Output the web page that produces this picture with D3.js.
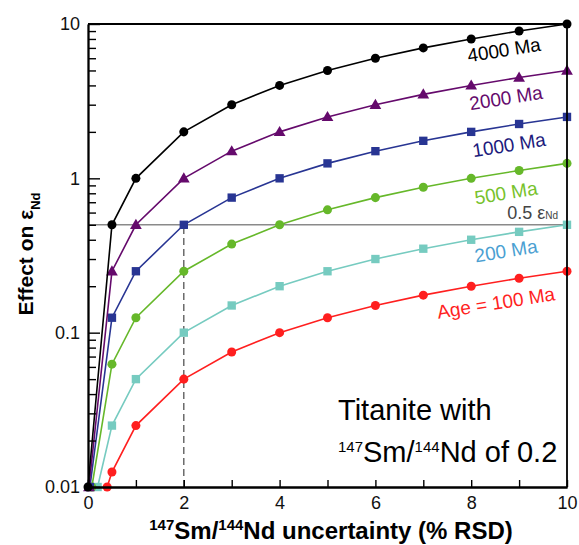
<!DOCTYPE html>
<html>
<head>
<meta charset="utf-8">
<script src="https://cdn.jsdelivr.net/npm/d3@7"></script>
<style>
  body { margin: 0; background: #fff; }
  text { font-family: "Liberation Sans", Arial, sans-serif; }
</style>
</head>
<body>
<div id="chart"></div>
<script>
// values
var ages = ["4000 Ma", "2000 Ma", "1000 Ma", "500 Ma", "200 Ma", "Age = 100 Ma"];
var x4000 = [0, 0.5, 1, 2, 3, 4, 5, 6, 7, 8, 9, 10];
var y4000 = [0.01, 0.5, 1, 2, 3, 4, 5, 6, 7, 8, 9, 10];
var x2000 = [0.02, 0.5, 1, 2, 3, 4, 5, 6, 7, 8, 9, 10];
var y2000 = [0.01, 0.25, 0.5, 1, 1.5, 2, 2.5, 3, 3.5, 4, 4.5, 5];
var x1000 = [0.04, 0.5, 1, 2, 3, 4, 5, 6, 7, 8, 9, 10];
var y1000 = [0.01, 0.125, 0.25, 0.5, 0.75, 1, 1.25, 1.5, 1.75, 2, 2.25, 2.5];
var x500 = [0.08, 0.5, 1, 2, 3, 4, 5, 6, 7, 8, 9, 10];
var y500 = [0.01, 0.0625, 0.125, 0.25, 0.375, 0.5, 0.625, 0.75, 0.875, 1, 1.125, 1.25];
var x200 = [0.2, 0.5, 1, 2, 3, 4, 5, 6, 7, 8, 9, 10];
var y200 = [0.01, 0.025, 0.05, 0.1, 0.15, 0.2, 0.25, 0.3, 0.35, 0.4, 0.45, 0.5];
var x100 = [0.4, 0.5, 1, 2, 3, 4, 5, 6, 7, 8, 9, 10];
var y100 = [0.01, 0.0125, 0.025, 0.05, 0.075, 0.1, 0.125, 0.15, 0.175, 0.2, 0.225, 0.25];
var yMajor = [0.01, 0.1, 1, 10];
var yMinor = [0.02, 0.03, 0.04, 0.05, 0.06, 0.07, 0.08, 0.09,
              0.2, 0.3, 0.4, 0.5, 0.6, 0.7, 0.8, 0.9,
              2, 3, 4, 5, 6, 7, 8, 9];
var xTicks = [0, 1, 2, 3, 4, 5, 6, 7, 8, 9, 10];
var xLabels = [0, 2, 4, 6, 8, 10];
var threshold = 0.5;
var markedUnc = 2;

var series = [
  {name: ages[5], xs: x100, ys: y100, color: "#ff1f1f", text: "#ff1f1f", shape: "circle", lx: 496, ly: 303},
  {name: ages[4], xs: x200, ys: y200, color: "#76cbc0", text: "#4b9fd2", shape: "square", lx: 506, ly: 251},
  {name: ages[3], xs: x500, ys: y500, color: "#66b82a", text: "#77c22c", shape: "circle", lx: 506, ly: 193},
  {name: ages[2], xs: x1000, ys: y1000, color: "#283593", text: "#1c1a7c", shape: "square", lx: 509, ly: 145},
  {name: ages[1], xs: x2000, ys: y2000, color: "#650a6c", text: "#650a6c", shape: "triangle", lx: 506, ly: 98},
  {name: ages[0], xs: x4000, ys: y4000, color: "#000000", text: "#000000", shape: "circle", lx: 504, ly: 50}
];

var W = 579, H = 545;
var margin = {top: 24, right: 12, bottom: 58, left: 88};
var width = W - margin.left - margin.right,
    height = H - margin.top - margin.bottom;

var svg = d3.select("#chart").append("svg")
    .attr("width", W).attr("height", H);
var g = svg.append("g")
    .attr("transform", "translate(" + margin.left + "," + margin.top + ")");

var x = d3.scaleLinear().domain([0, 10]).range([0, width]);
var y = d3.scaleLog().domain([0.01, 10]).range([height, 0]);

// threshold line and dashed drop line
g.append("line")
    .attr("x1", 0).attr("x2", width)
    .attr("y1", y(threshold)).attr("y2", y(threshold))
    .attr("stroke", "#8a8a8a").attr("stroke-width", 1.6);
g.append("line")
    .attr("x1", x(markedUnc)).attr("x2", x(markedUnc))
    .attr("y1", height).attr("y2", y(threshold))
    .attr("stroke", "#555").attr("stroke-width", 1.3)
    .attr("stroke-dasharray", "7,4");

var line = d3.line()
    .x(function(d) { return x(d[0]); })
    .y(function(d) { return y(d[1]); });

series.forEach(function(s) {
  var pts = s.xs.map(function(v, i) { return [v, s.ys[i]]; });
  g.append("path")
      .attr("d", line(pts))
      .attr("fill", "none")
      .attr("stroke", s.color)
      .attr("stroke-width", 1.6);
  var sym = s.shape == "circle" ? d3.symbolCircle :
            s.shape == "square" ? d3.symbolSquare : d3.symbolTriangle;
  var size = s.shape == "circle" ? 64 : s.shape == "square" ? 70 : 60;
  g.selectAll(null).data(pts).enter().append("path")
      .attr("d", d3.symbol().type(sym).size(size))
      .attr("transform", function(d) {
        return "translate(" + x(d[0]) + "," + (y(d[1]) + (s.shape == "triangle" ? 0.8 : 0)) + ")";
      })
      .attr("fill", s.color);
  svg.append("text")
      .attr("transform", "translate(" + s.lx + "," + s.ly + ") rotate(-9)")
      .attr("text-anchor", "middle")
      .attr("dominant-baseline", "central")
      .attr("font-size", 19)
      .attr("fill", s.text)
      .text(s.name);
});

// axes, ticks pointing inward
g.append("g").call(d3.axisLeft(y).tickValues(yMajor)
    .tickFormat(d3.format("~g")).tickSizeInner(-12).tickSizeOuter(0).tickPadding(8));
g.append("g").call(d3.axisLeft(y).tickValues(yMinor)
    .tickFormat("").tickSizeInner(-8).tickSizeOuter(0));
g.append("g").attr("transform", "translate(0," + height + ")")
    .call(d3.axisBottom(x).tickValues(xTicks).tickFormat("")
      .tickSizeInner(-7).tickSizeOuter(0));
g.append("g").attr("transform", "translate(0," + height + ")")
    .call(d3.axisBottom(x).tickValues(xLabels).tickFormat(d3.format("d"))
      .tickSizeInner(0).tickSizeOuter(0).tickPadding(9));

g.selectAll(".domain").attr("stroke", "#000").attr("stroke-width", 1.8);
g.selectAll(".tick line").attr("stroke", "#000").attr("stroke-width", 1.4);
g.selectAll(".tick text")
    .attr("font-family", "Liberation Sans, Arial, sans-serif")
    .attr("font-size", 18).attr("fill", "#111");

// top and right frame
g.append("path")
    .attr("d", "M0,0H" + width + "V" + height)
    .attr("fill", "none").attr("stroke", "#000").attr("stroke-width", 1.8);

// threshold label
var thr = svg.append("text")
    .attr("x", margin.left + width - 9).attr("y", margin.top + y(threshold) - 6)
    .attr("text-anchor", "end").attr("fill", "#444").attr("font-size", 18);
thr.append("tspan").text("0.5 ε");
thr.append("tspan").attr("font-size", 10).text("Nd");

// annotation
svg.append("text")
    .attr("x", 338).attr("y", 420)
    .attr("font-size", 29).attr("fill", "#000")
    .text("Titanite with");
var ann = svg.append("text")
    .attr("x", 338).attr("y", 462)
    .attr("font-size", 29).attr("fill", "#000");
ann.append("tspan").attr("font-size", 15).attr("dy", -10).text("147");
ann.append("tspan").attr("dy", 10).text("Sm/");
ann.append("tspan").attr("font-size", 15).attr("dy", -10).text("144");
ann.append("tspan").attr("dy", 10).text("Nd of 0.2");

// axis titles
var xt = svg.append("text")
    .attr("x", 331).attr("y", 539)
    .attr("text-anchor", "middle").attr("font-weight", "bold")
    .attr("font-family", "DejaVu Sans, sans-serif")
    .attr("font-size", 24).attr("fill", "#000");
xt.append("tspan").attr("font-size", 15).attr("dy", -9).text("147");
xt.append("tspan").attr("dy", 9).text("Sm/");
xt.append("tspan").attr("font-size", 15).attr("dy", -9).text("144");
xt.append("tspan").attr("dy", 9).text("Nd uncertainty (% RSD)");

var yt = svg.append("text")
    .attr("transform", "translate(33," + 254 + ") rotate(-90)")
    .attr("text-anchor", "middle").attr("font-weight", "bold")
    .attr("font-size", 21).attr("fill", "#000");
yt.append("tspan").text("Effect on ε");
yt.append("tspan").attr("font-size", 13).attr("dy", 7).text("Nd");
</script>
</body>
</html>
